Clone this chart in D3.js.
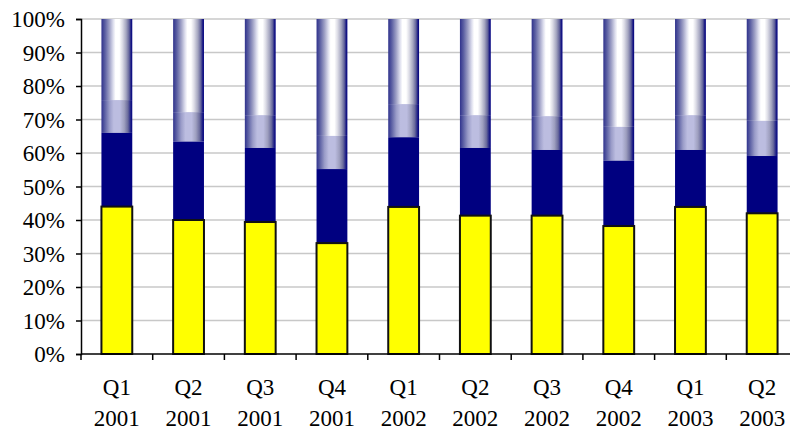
<!DOCTYPE html>
<html>
<head>
<meta charset="utf-8">
<script src="https://cdn.jsdelivr.net/npm/d3@7"></script>
<style>
  html, body { margin: 0; padding: 0; background: #fff; }
  svg { display: block; }
</style>
</head>
<body>
<svg id="chart" width="790" height="432"></svg>
<script>
// Quarterly share of each segment (percent of the quarter's total)
const quarters = ["Q1", "Q2", "Q3", "Q4", "Q1", "Q2", "Q3", "Q4", "Q1", "Q2"];
const years    = ["2001", "2001", "2001", "2001", "2002", "2002", "2002", "2002", "2003", "2003"];
const seriesA  = [44.0, 40.0, 39.4, 33.1, 43.9, 41.3, 41.3, 38.2, 43.9, 42.0];
const seriesB  = [22.0, 23.4, 22.1, 22.1, 20.8, 20.2, 19.6, 19.5, 17.0, 17.1];
const seriesC  = [ 9.8,  8.8,  9.8,  9.9,  9.9,  9.8, 10.1, 10.1, 10.4, 10.5];
const seriesD  = [24.2, 27.8, 28.7, 34.9, 25.4, 28.7, 29.0, 32.2, 28.7, 30.4];
const yTicks   = [0, 0.1, 0.2, 0.3, 0.4, 0.5, 0.6, 0.7, 0.8, 0.9, 1.0];

const FONT = "'Liberation Serif', 'Times New Roman', serif";
const FONT_SIZE = "23px";

const keys = ["a", "b", "c", "d"];
const rows = quarters.map((q, i) => ({
  idx: i, a: seriesA[i], b: seriesB[i], c: seriesC[i], d: seriesD[i]
}));

const svg = d3.select("#chart");
const plotLeft = 81, plotRight = 798, plotTop = 19, plotBottom = 354;

const x = d3.scaleBand()
  .domain(rows.map(r => r.idx))
  .range([plotLeft, plotRight])
  .paddingInner(0.57)
  .paddingOuter(0.285);

const y = d3.scaleLinear().domain([0, 1]).range([plotBottom, plotTop]);

const stacked = d3.stack().keys(keys).offset(d3.stackOffsetExpand)(rows);

// Horizontal shading for the two upper segments
const defs = svg.append("defs");
const gradTop = defs.append("linearGradient").attr("id", "gradTop")
  .attr("x1", "0%").attr("x2", "100%").attr("y1", "0%").attr("y2", "0%");
[
  [0, "#2f328c"], [0.12, "#5d61a3"], [0.26, "#9fa1c6"], [0.38, "#dcdded"],
  [0.46, "#ffffff"], [0.58, "#ffffff"], [0.68, "#dcdce6"], [0.8, "#a5a6c0"],
  [0.9, "#63649a"], [0.96, "#1a1a84"], [1, "#000080"]
].forEach(([o, c]) => gradTop.append("stop").attr("offset", o).attr("stop-color", c));

const gradMid = defs.append("linearGradient").attr("id", "gradMid")
  .attr("x1", "0%").attr("x2", "100%").attr("y1", "0%").attr("y2", "0%");
[
  [0, "#30338e"], [0.12, "#6064a6"], [0.26, "#9a9cc8"], [0.4, "#bcbde0"],
  [0.6, "#bcbde0"], [0.74, "#9e9fbf"], [0.86, "#6a6b9c"], [0.95, "#1e1f86"], [1, "#000080"]
].forEach(([o, c]) => gradMid.append("stop").attr("offset", o).attr("stop-color", c));

// Gridlines
svg.append("g")
  .selectAll("line")
  .data(yTicks.slice(1))
  .join("line")
  .attr("x1", plotLeft).attr("x2", 790)
  .attr("y1", d => y(d)).attr("y2", d => y(d))
  .attr("stroke", "#c8c8c8").attr("stroke-width", 1.5);

const fills = { a: "#ffff00", b: "#000080", c: "url(#gradMid)", d: "url(#gradTop)" };

// Segments: upper three first, then the outlined bottom segment on top
["d", "c", "b"].forEach(k => {
  const layer = stacked.find(s => s.key === k);
  svg.append("g")
    .selectAll("rect")
    .data(layer)
    .join("rect")
    .attr("x", d => x(d.data.idx))
    .attr("width", x.bandwidth())
    .attr("y", d => y(d[1]))
    .attr("height", d => y(d[0]) - y(d[1]))
    .attr("fill", fills[k]);
});

const layerA = stacked.find(s => s.key === "a");
svg.append("g")
  .selectAll("rect")
  .data(layerA)
  .join("rect")
  .attr("x", d => x(d.data.idx))
  .attr("width", x.bandwidth())
  .attr("y", d => y(d[1]))
  .attr("height", d => y(d[0]) - y(d[1]))
  .attr("fill", fills.a)
  .attr("stroke", "#111")
  .attr("stroke-width", 2);

// Y axis
const yAxis = d3.axisLeft(y)
  .tickValues(yTicks)
  .tickFormat(d3.format(".0%"))
  .tickSize(5)
  .tickPadding(11);
const gy = svg.append("g").attr("transform", `translate(${plotLeft},0)`).call(yAxis);
gy.select(".domain").attr("stroke", "#000").attr("stroke-width", 1.5);
gy.selectAll(".tick line").attr("stroke", "#000").attr("stroke-width", 1.5);
gy.selectAll(".tick text")
  .style("font-family", FONT)
  .style("font-size", FONT_SIZE)
  .attr("fill", "#000")
  .attr("dy", "0.34em");

// X axis: line with ticks at band boundaries
const boundaries = rows.map(r => x(r.idx) - x.step() * x.paddingInner() / 2)
  .concat([plotRight]);
svg.append("line")
  .attr("x1", plotLeft).attr("x2", plotRight)
  .attr("y1", plotBottom).attr("y2", plotBottom)
  .attr("stroke", "#000").attr("stroke-width", 1.5);
svg.append("g")
  .selectAll("line")
  .data(boundaries)
  .join("line")
  .attr("x1", d => d).attr("x2", d => d)
  .attr("y1", plotBottom).attr("y2", plotBottom + 6)
  .attr("stroke", "#000").attr("stroke-width", 1.5);

// Two-line category labels
const labels = svg.append("g")
  .selectAll("text")
  .data(rows)
  .join("text")
  .attr("text-anchor", "middle")
  .style("font-family", FONT)
  .style("font-size", FONT_SIZE)
  .attr("fill", "#000")
  .attr("x", d => x(d.idx) + x.bandwidth() / 2);
labels.append("tspan")
  .attr("x", d => x(d.idx) + x.bandwidth() / 2)
  .attr("y", 395)
  .text(d => quarters[d.idx]);
labels.append("tspan")
  .attr("x", d => x(d.idx) + x.bandwidth() / 2)
  .attr("y", 426)
  .text(d => years[d.idx]);
</script>
</body>
</html>
